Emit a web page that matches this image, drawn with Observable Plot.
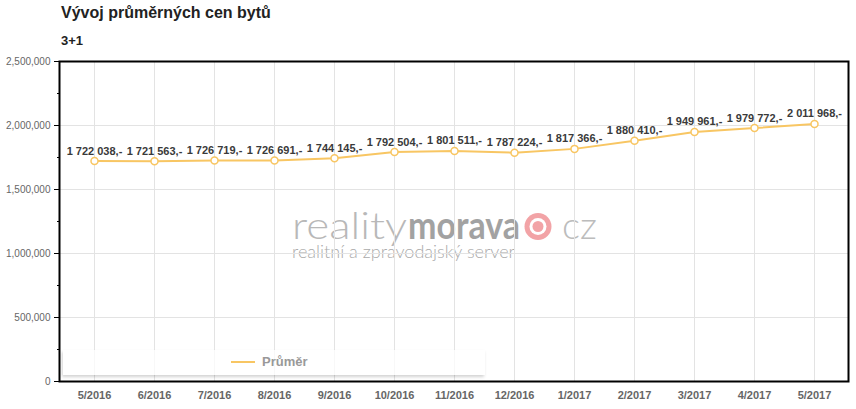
<!DOCTYPE html>
<html>
<head>
<meta charset="utf-8">
<script src="https://cdn.jsdelivr.net/npm/d3@7"></script>
<script src="https://cdn.jsdelivr.net/npm/@observablehq/plot@0.6"></script>
<style>
  html, body { margin: 0; padding: 0; background: #fff; }
  #wrap { position: relative; width: 856px; height: 409px; overflow: hidden; font-family: "Liberation Sans", Arial, sans-serif; }
  #title { position: absolute; left: 61px; top: 4px; font-size: 16px; font-weight: bold; color: #222; line-height: 18px; }
  #subtitle { position: absolute; left: 61px; top: 33px; font-size: 13px; font-weight: bold; color: #222; line-height: 15px; }
  #wm { position: absolute; left: 0; top: 0; }
  #chart { position: absolute; left: 0; top: 50px; }
  #legend { position: absolute; left: 63px; top: 350px; width: 422px; height: 25px; background: rgba(255,255,255,0.75);
            box-shadow: -1px 2px 3px rgba(0,0,0,0.18); }
  #legend .sw { position: absolute; left: 168px; top: 11px; width: 24px; height: 2px; background: #f8c663; }
  #legend .lb { position: absolute; left: 199px; top: 4px; font-size: 13px; font-weight: bold; color: #999; line-height: 16px; }
</style>
</head>
<body>
<div id="wrap">
  <svg id="wm" width="856" height="409">
    <text x="292" y="239" font-family="Lato, 'Open Sans', sans-serif" font-weight="300" font-size="38" fill="#b8b8b8" textLength="115" lengthAdjust="spacingAndGlyphs">reality</text>
    <text x="408" y="239" font-family="Lato, 'Open Sans', sans-serif" font-weight="bold" font-size="38" fill="#a2a2a2" textLength="112" lengthAdjust="spacingAndGlyphs">morava</text>
    <circle cx="538" cy="226.5" r="13.5" fill="#f2a3a6"></circle>
    <circle cx="538" cy="226.5" r="8.5" fill="#fff"></circle>
    <circle cx="538" cy="226.5" r="5.5" fill="#f2a3a6"></circle>
    <text x="562" y="239" font-family="Lato, 'Open Sans', sans-serif" font-weight="300" font-size="38" fill="#bcbcbc" textLength="35" lengthAdjust="spacingAndGlyphs">cz</text>
    <text x="292" y="258" font-family="Lato, 'Open Sans', sans-serif" font-weight="300" font-size="18" fill="#aaaaaa" textLength="223" lengthAdjust="spacingAndGlyphs">realitní a zpravodajský server</text>
  </svg>
  <div id="title">Vývoj průměrných cen bytů</div>
  <div id="subtitle">3+1</div>
  <div id="chart"></div>
  <div id="legend"><div class="sw"></div><div class="lb">Průměr</div></div>
</div>
<script>
const months = ["5/2016","6/2016","7/2016","8/2016","9/2016","10/2016","11/2016","12/2016","1/2017","2/2017","3/2017","4/2017","5/2017"];
const prices = [1722038, 1721563, 1726719, 1726691, 1744145, 1792504, 1801511, 1787224, 1817366, 1880410, 1949961, 1979772, 2011968];
const yMajorTicks = [0, 500000, 1000000, 1500000, 2000000, 2500000];
const yMinorTicks = [250000, 750000, 1250000, 1750000, 2250000];
const yGridTicks = [500000, 1000000, 1500000, 2000000];
const seriesName = "Průměr";
const lineColor = "#f8c663";

const data = months.map((m, i) => ({month: m, price: prices[i]}));
const fmtLabel = v => d3.format(",")(v).replace(/,/g, " ") + ",-";

const chart = Plot.plot({
  width: 856,
  height: 359,
  marginLeft: 59,
  marginRight: 8,
  marginTop: 11,
  marginBottom: 28,
  style: {background: "transparent", fontFamily: "'Liberation Sans', Arial, sans-serif", color: "#666"},
  x: {type: "point", domain: months, padding: 0.5, label: null},
  y: {domain: [0, 2500000], label: null},
  marks: [
    Plot.gridX(months, {stroke: "#e3e3e3", strokeOpacity: 1}),
    Plot.gridY(yGridTicks, {stroke: "#e3e3e3", strokeOpacity: 1}),
    Plot.axisY({ticks: yMajorTicks, tickSize: 5, tickPadding: 4, tickFormat: d3.format(","), fontSize: 10, fill: "#666", stroke: "black", label: null}),
    Plot.axisY({ticks: yMinorTicks, tickSize: 2, tickFormat: () => "", stroke: "black", label: null}),
    Plot.axisX({tickSize: 0, tickPadding: 10, fontSize: 11, fontWeight: "bold", fill: "#666", label: null}),
    Plot.frame({stroke: "black", strokeWidth: 2}),
    Plot.line(data, {x: "month", y: "price", stroke: lineColor, strokeWidth: 2}),
    Plot.dot(data, {x: "month", y: "price", r: 3.5, fill: "white", stroke: lineColor, strokeWidth: 1.5}),
    Plot.text(data, {x: "month", y: "price", text: d => fmtLabel(d.price), dy: -10, fontSize: 11, fontWeight: "bold", fill: "#3a3a3a"})
  ]
});
document.getElementById("chart").appendChild(chart);
</script>
</body>
</html>
